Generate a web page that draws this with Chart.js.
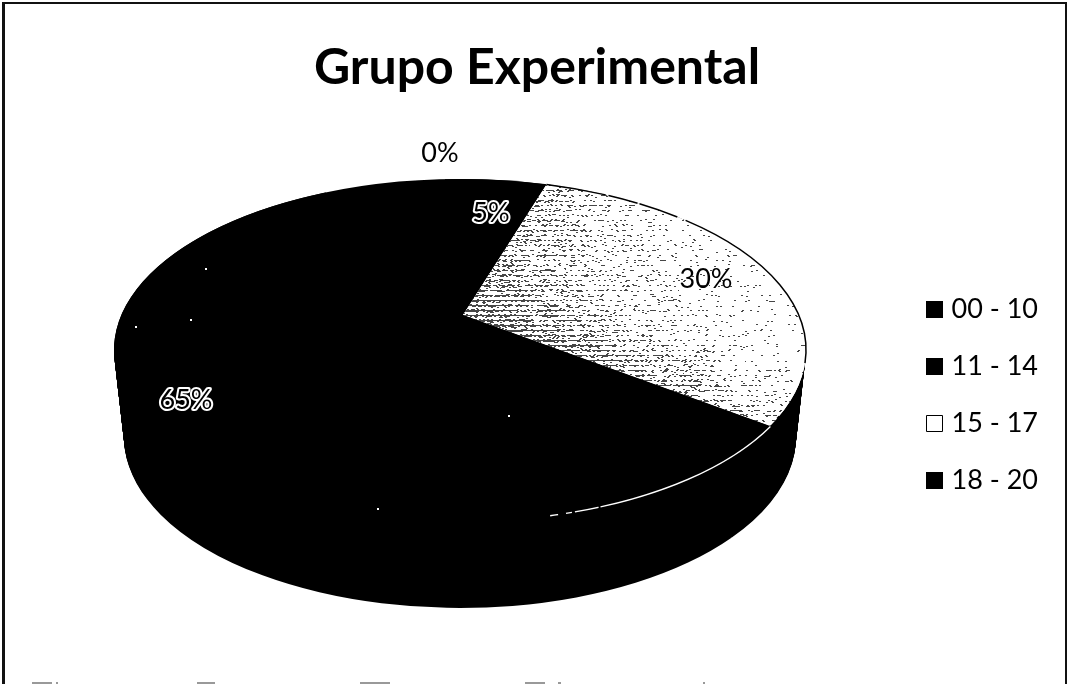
<!DOCTYPE html>
<html>
<head>
<meta charset="utf-8">
<style>html,body{margin:0;padding:0;background:#fff}canvas{display:block}</style>
<script src="https://cdn.jsdelivr.net/npm/chart.js@4"></script>
</head>
<body>
<canvas id="c" width="1067" height="684"></canvas>
<script>
const categories = ['00 - 10', '11 - 14', '15 - 17', '18 - 20'];
const percentages = [0, 5, 30, 65];
const sliceColors = ['#000000', '#000000', '#ffffff', '#000000'];
const chartTitle = 'Grupo Experimental';

// drawing geometry of the tilted disc
const TOP = {cx: 460, cy: 350, rx: 346, ry: 171, apexX: 463, apexY: 315};
const DEPTH = 87, SHRINK = 10;
const WARP = 0.9435, WARP_OFF = -2.5 * Math.PI / 180;
const labelPos = [[440, 153], [491, 213], [706, 279], [186, 400]];
const specks = [[205, 268], [135, 326], [190, 319], [508, 415], [377, 508]];
const scanMarks = [[32, 20], [56, 2], [197, 18], [360, 30], [525, 20], [558, 3], [703, 2]];
const bandWeights = [2.6, 1.3, 0.4, 0.15, 0.7];

function rimAngle(a) { // library angle -> parameter on the tilted ellipse
  return -Math.PI / 2 + (a + Math.PI / 2) * WARP + WARP_OFF;
}
function ditherPattern(ctx) {
  const w = 1067, h = 684;
  const off = document.createElement('canvas');
  off.width = w; off.height = h;
  const o = off.getContext('2d');
  const img = o.createImageData(w, h);
  for (let y = 150; y < 460; y++) {
    for (let x = 450; x < 820; x++) {
      const dark = Math.max(0, 1 - (x - 463) / 300);
      const edge = Math.max(0, 1 - Math.abs((y - 315) - (x - 463) * 0.36) / 90);
      const d = 0.025 + 0.28 * dark * dark + 0.24 * edge * edge * (x < 700 ? 1 : 0.7);
      const band = bandWeights[y % 5];
      const qx = (x + y * 7) >> 1;
      const hv = (((qx * 73856093) ^ (y * 19349663)) >>> 0) % 9973 / 9973;
      const on = hv < d * band;
      const i = (y * w + x) * 4;
      const v = on ? 70 : 255;
      img.data[i] = v; img.data[i + 1] = v; img.data[i + 2] = v; img.data[i + 3] = 255;
    }
  }
  o.putImageData(img, 0, 0);
  return ctx.createPattern(off, 'no-repeat');
}

const pie3d = {
  id: 'pie3d',
  beforeDatasetsDraw(chart) {
    const ctx = chart.ctx, meta = chart.getDatasetMeta(0);
    const ca = chart.chartArea;
    const ox = (ca.left + ca.right) / 2, oy = (ca.top + ca.bottom) / 2;
    const r = meta.data[0].outerRadius;
    // frame of the scanned page
    ctx.save();
    ctx.fillStyle = '#111';
    ctx.fillRect(2, 2, 1064, 2);
    ctx.fillRect(2, 2, 3, 682);
    ctx.fillRect(1065, 2, 2, 682);
    ctx.fillStyle = '#999';
    scanMarks.forEach(m => ctx.fillRect(m[0], 682, m[1], 2));
    ctx.restore();
    // side wall: the library arcs repeated downward, all black
    for (let k = DEPTH; k >= 0; k--) {
      const rx = TOP.rx - SHRINK * k / DEPTH;
      ctx.save();
      ctx.translate(TOP.cx, TOP.cy + k);
      ctx.scale(rx / r, TOP.ry / r);
      ctx.translate(-ox, -oy);
      meta.data.forEach(el => {
        const saved = el.options;
        el.options = Object.assign({}, saved, {backgroundColor: '#000000', borderWidth: 0});
        el.draw(ctx);
        el.options = saved;
      });
      ctx.restore();
    }
    // top surface
    meta.data.forEach((el, i) => {
      if (percentages[i] === 0) return;
      const s = rimAngle(el.startAngle), e = rimAngle(el.endAngle);
      ctx.beginPath();
      ctx.moveTo(TOP.apexX, TOP.apexY);
      ctx.lineTo(TOP.cx + TOP.rx * Math.cos(s), TOP.cy + TOP.ry * Math.sin(s));
      ctx.ellipse(TOP.cx, TOP.cy, TOP.rx, TOP.ry, 0, s, e);
      ctx.closePath();
      ctx.fillStyle = sliceColors[i];
      ctx.fill();
      if (sliceColors[i] === '#ffffff') {
        ctx.fillStyle = ditherPattern(ctx);
        ctx.fill();
        ctx.beginPath();
        ctx.ellipse(TOP.cx, TOP.cy, TOP.rx, TOP.ry, 0, s, e);
        ctx.setLineDash([60, 3, 30, 2, 40, 9, 200]);
        ctx.strokeStyle = '#000';
        ctx.lineWidth = 1.5;
        ctx.stroke();
        ctx.setLineDash([]);
        // white seam under the slice, along the rim
        ctx.beginPath();
        ctx.ellipse(TOP.cx, TOP.cy, TOP.rx, TOP.ry, 0, e, e + 0.88);
        ctx.setLineDash([190, 2, 24, 3, 6, 8, 8, 12, 12]);
        ctx.strokeStyle = '#fff';
        ctx.lineWidth = 2.6;
        ctx.stroke();
        ctx.setLineDash([]);
      }
    });
    ctx.fillStyle = '#fff';
    specks.forEach(p => ctx.fillRect(p[0], p[1], 2, 2));
    return false;
  },
  afterDraw(chart) {
    const ctx = chart.ctx;
    ctx.save();
    ctx.font = '27px Lato';
    ctx.textAlign = 'center';
    ctx.textBaseline = 'middle';
    percentages.forEach((v, i) => {
      const t = v + '%', p = labelPos[i];
      if (sliceColors[i] === '#000000' && v > 0) {
        ctx.strokeStyle = '#fff';
        ctx.lineWidth = 4;
        ctx.lineJoin = 'round';
        ctx.strokeText(t, p[0], p[1]);
      }
      ctx.fillStyle = '#000';
      ctx.fillText(t, p[0], p[1]);
    });
    // legend squares, placed from the legend's own hit boxes
    chart.legend.legendHitBoxes.forEach((hb, i) => {
      const x = hb.left - 8, y = hb.top + hb.height / 2 - 8.5;
      ctx.fillStyle = sliceColors[i];
      ctx.strokeStyle = '#000';
      ctx.lineWidth = 1;
      ctx.fillRect(x, y, 17, 17);
      ctx.strokeRect(x + 0.5, y + 0.5, 16, 16);
    });
    ctx.restore();
  }
};

new Chart(document.getElementById('c'), {
  type: 'pie',
  data: {
    labels: categories,
    datasets: [{data: percentages, backgroundColor: sliceColors, borderWidth: 0}]
  },
  plugins: [pie3d],
  options: {
    responsive: false,
    animation: false,
    layout: {padding: {top: 38, right: 19, bottom: 160, left: 26}},
    plugins: {
      tooltip: {enabled: false},
      title: {
        display: true, text: chartTitle, color: '#000',
        font: {family: 'Lato', size: 50, weight: 'bold'},
        padding: {top: 0, bottom: 10}
      },
      legend: {
        display: true, position: 'right', align: 'end',
        labels: {
          boxWidth: 4, boxHeight: 17, padding: 30, color: '#000',
          font: {family: 'Lato', size: 27},
          generateLabels(chart) {
            return categories.map((c, i) => ({
              text: c,
              fillStyle: 'rgba(0,0,0,0)',
              strokeStyle: 'rgba(0,0,0,0)',
              lineWidth: 0,
              fontColor: '#000',
              index: i
            }));
          }
        }
      }
    }
  }
});
</script>
</body>
</html>
